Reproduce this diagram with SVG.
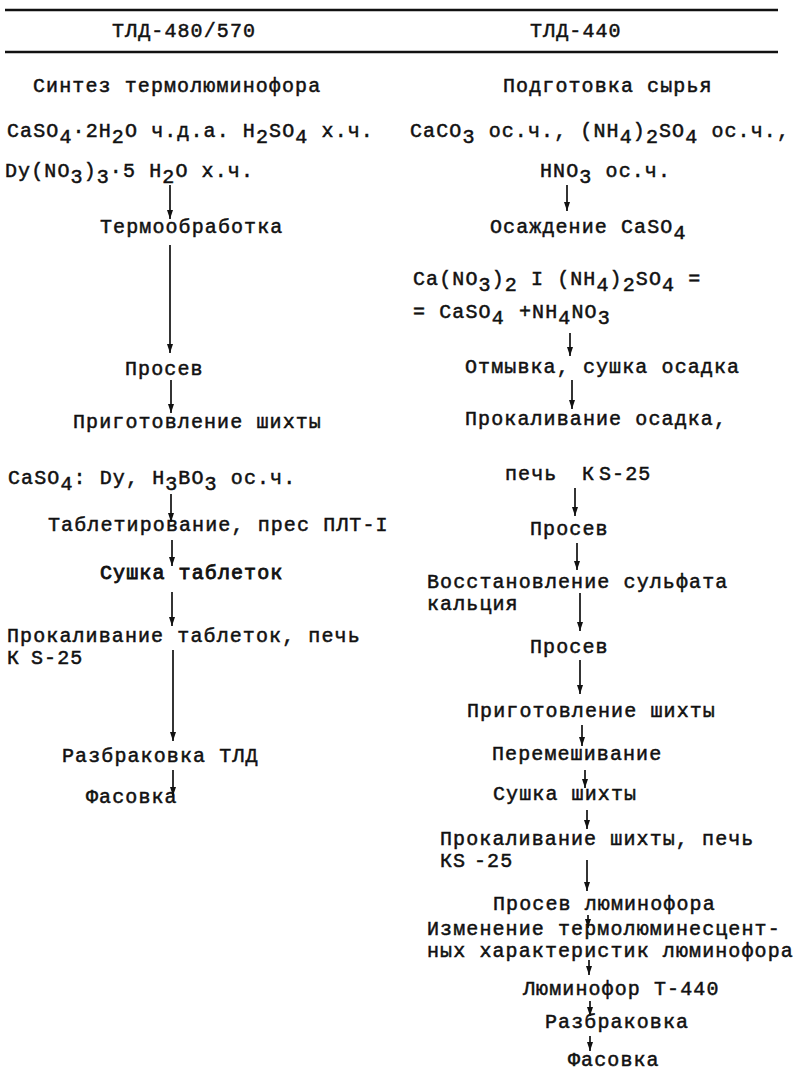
<svg xmlns="http://www.w3.org/2000/svg" width="797" height="1074" viewBox="0 0 797 1074">
<style>
text{font-family:"Liberation Mono","DejaVu Sans Mono",monospace;font-size:20px;letter-spacing:1.1px;fill:#111;stroke:#111;stroke-width:0.5}
.rule{stroke:#111;stroke-width:2.4;fill:none}
.arr{stroke:#111;stroke-width:1.7;fill:none;marker-end:url(#ah)}
</style>
<defs>
<marker id="ah" markerUnits="userSpaceOnUse" markerWidth="10" markerHeight="8" refX="9" refY="3" orient="auto">
<path d="M0,0 L9,3 L0,6 z" fill="#111"/>
</marker>
</defs>
<rect width="797" height="1074" fill="#fff"/>
<g id="table-rules">
<line class="rule" x1="5" y1="10" x2="778" y2="10"/>
<line class="rule" x1="5" y1="52" x2="778" y2="52"/>
</g>
<g id="hdr-left"><text x="112" y="37">ТЛД-480/570</text></g>
<g id="hdr-right"><text x="530" y="37">ТЛД-440</text></g>

<g id="L1"><text x="33" y="92">Синтез термолюминофора</text></g>
<g id="L2"><text x="7" y="137">CaSO<tspan dy="6">4</tspan><tspan dy="-6">·2H</tspan><tspan dy="6">2</tspan><tspan dy="-6">O ч.д.а. H</tspan><tspan dy="6">2</tspan><tspan dy="-6">SO</tspan><tspan dy="6">4</tspan><tspan dy="-6"> х.ч.</tspan></text>
<text x="5" y="177">Dy(NO<tspan dy="6">3</tspan><tspan dy="-6">)</tspan><tspan dy="6">3</tspan><tspan dy="-6">·5 H</tspan><tspan dy="6">2</tspan><tspan dy="-6">O х.ч.</tspan></text></g>
<g id="L3"><text x="100" y="233">Термообработка</text></g>
<g id="L4"><text x="125" y="375">Просев</text></g>
<g id="L5"><text x="73" y="428">Приготовление шихты</text></g>
<g id="L6"><text x="8" y="484">CaSO<tspan dy="6">4</tspan><tspan dy="-6">: Dy, H</tspan><tspan dy="6">3</tspan><tspan dy="-6">BO</tspan><tspan dy="6">3</tspan><tspan dy="-6"> ос.ч.</tspan></text></g>
<g id="L7"><text x="48" y="531">Таблетирование, прес ПЛТ-I</text></g>
<g id="L8"><text x="100" y="579" style="stroke-width:0.85">Сушка таблеток</text></g>
<g id="L9"><text x="7" y="642">Прокаливание таблеток, печь</text>
<text x="7" y="664">К<tspan x="31">S-25</tspan></text></g>
<g id="L10"><text x="62" y="762">Разбраковка ТЛД</text></g>
<g id="L11"><text x="86" y="803">Фасовка</text></g>

<g id="R1"><text x="503" y="92">Подготовка сырья</text></g>
<g id="R2"><text x="410" y="137">CaCO<tspan dy="6">3</tspan><tspan dy="-6"> ос.ч., (NH</tspan><tspan dy="6">4</tspan><tspan dy="-6">)</tspan><tspan dy="6">2</tspan><tspan dy="-6">SO</tspan><tspan dy="6">4</tspan><tspan dy="-6"> ос.ч.,</tspan></text>
<text x="540" y="177">HNO<tspan dy="6">3</tspan><tspan dy="-6"> ос.ч.</tspan></text></g>
<g id="R3"><text x="490" y="233">Осаждение CaSO<tspan dy="6">4</tspan></text></g>
<g id="R4"><text x="413" y="285">Ca(NO<tspan dy="6">3</tspan><tspan dy="-6">)</tspan><tspan dy="6">2</tspan><tspan dy="-6"> I (NH</tspan><tspan dy="6">4</tspan><tspan dy="-6">)</tspan><tspan dy="6">2</tspan><tspan dy="-6">SO</tspan><tspan dy="6">4</tspan><tspan dy="-6"> =</tspan></text>
<text x="413" y="318">= CaSO<tspan dy="6">4</tspan><tspan dy="-6" x="519">+NH</tspan><tspan dy="6">4</tspan><tspan dy="-6">NO</tspan><tspan dy="6">3</tspan></text></g>
<g id="R5"><text x="465" y="373">Отмывка, сушка осадка</text></g>
<g id="R6"><text x="465" y="425">Прокаливание осадка,</text></g>
<g id="R7"><text x="505" y="480">печь<tspan x="582">К</tspan><tspan x="599">S-25</tspan></text></g>
<g id="R8"><text x="530" y="535">Просев</text></g>
<g id="R9"><text x="427" y="588">Восстановление сульфата</text>
<text x="427" y="610">кальция</text></g>
<g id="R10"><text x="530" y="653">Просев</text></g>
<g id="R11"><text x="467" y="717">Приготовление шихты</text></g>
<g id="R12"><text x="492" y="760">Перемешивание</text></g>
<g id="R13"><text x="493" y="800">Сушка шихты</text></g>
<g id="R14"><text x="440" y="845">Прокаливание шихты, печь</text>
<text x="440" y="867">КS<tspan x="474">-25</tspan></text></g>
<g id="R15"><text x="493" y="910">Просев люминофора</text></g>
<g id="R16"><text x="427" y="935">Изменение термолюминесцент-</text>
<text x="427" y="957">ных характеристик люминофора</text></g>
<g id="R17"><text x="523" y="995">Люминофор Т-440</text></g>
<g id="R18"><text x="545" y="1028">Разбраковка</text></g>
<g id="R19"><text x="568" y="1066">Фасовка</text></g>

<g id="connectors">
<line class="arr" x1="170" y1="185" x2="170" y2="219"/>
<line class="arr" x1="170" y1="245" x2="170" y2="353"/>
<line class="arr" x1="171" y1="380" x2="171" y2="413"/>
<line class="arr" x1="171" y1="494" x2="171" y2="522"/>
<line class="arr" x1="172" y1="540" x2="172" y2="566"/>
<line class="arr" x1="172" y1="592" x2="172" y2="626"/>
<line class="arr" x1="173" y1="650" x2="173" y2="741"/>
<line class="arr" x1="173" y1="770" x2="173" y2="796"/>

<line class="arr" x1="567" y1="185" x2="567" y2="211"/>
<line class="arr" x1="570" y1="333" x2="570" y2="356"/>
<line class="arr" x1="572" y1="380" x2="572" y2="409"/>
<line class="arr" x1="575" y1="488" x2="575" y2="516"/>
<line class="arr" x1="577" y1="543" x2="577" y2="570"/>
<line class="arr" x1="580" y1="593" x2="580" y2="631"/>
<line class="arr" x1="580" y1="660" x2="580" y2="694"/>
<line class="arr" x1="582" y1="725" x2="582" y2="746"/>
<line class="arr" x1="585" y1="770" x2="585" y2="788"/>
<line class="arr" x1="587" y1="810" x2="587" y2="829"/>
<line class="arr" x1="587" y1="860" x2="587" y2="891"/>
<line class="arr" x1="588" y1="915" x2="588" y2="928"/>
<line class="arr" x1="589" y1="960" x2="589" y2="975"/>
<line class="arr" x1="590" y1="1001" x2="590" y2="1016"/>
<line class="arr" x1="590" y1="1036" x2="590" y2="1051"/>
</g>
</svg>
